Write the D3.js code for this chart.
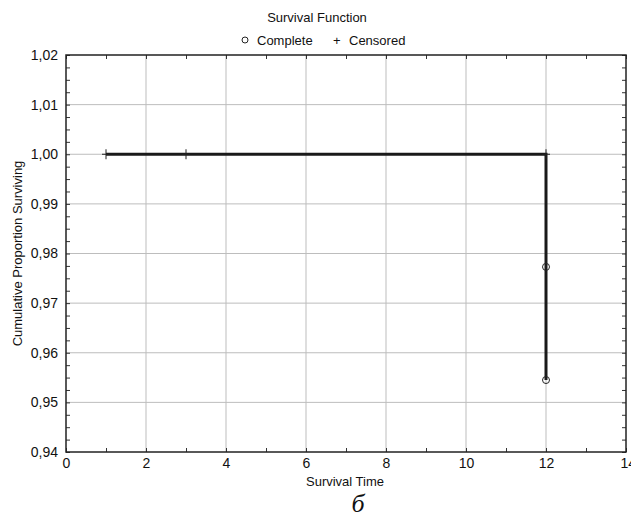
<!DOCTYPE html>
<html>
<head>
<meta charset="utf-8">
<script src="https://cdn.jsdelivr.net/npm/d3@7"></script>
<style>
body { margin: 0; background: #fff; }
text { font-family: "Liberation Sans", Arial, sans-serif; fill: #111; }
</style>
</head>
<body>
<div id="chart"></div>
<script>
var width = 631;
var height = 515;
var margin = {top: 55, right: 5, bottom: 63, left: 66};

// survival step data
var stepTimes = [1, 12, 12, 12];
var stepValues = [1.00, 1.00, 0.9773, 0.9545];
var completeTimes = [12, 12];
var completeValues = [0.9773, 0.9545];
var censoredTimes = [1, 3, 12];
var censoredValues = [1.00, 1.00, 1.00];
var xTicks = [0, 2, 4, 6, 8, 10, 12, 14];
var yTicks = [0.94, 0.95, 0.96, 0.97, 0.98, 0.99, 1.00, 1.01, 1.02];

var locale = d3.formatLocale({decimal: ",", thousands: " ", grouping: [3], currency: ["", ""]});
var fmt = locale.format(".2f");

var svg = d3.select("#chart")
	.append("svg")
		.attr("width", width)
		.attr("height", height);

var x = d3.scaleLinear().domain([0, 14]).range([margin.left, width - margin.right]);
var y = d3.scaleLinear().domain([0.94, 1.02]).range([height - margin.bottom, margin.top]);

// grid
svg.append("g").selectAll("line")
	.data(xTicks.slice(1, -1))
	.enter().append("line")
		.attr("x1", function (d) { return x(d); })
		.attr("x2", function (d) { return x(d); })
		.attr("y1", y(0.94))
		.attr("y2", y(1.02))
		.attr("stroke", "#bdbdbd")
		.attr("stroke-width", 1);

svg.append("g").selectAll("line")
	.data(yTicks.slice(1, -1))
	.enter().append("line")
		.attr("y1", function (d) { return y(d); })
		.attr("y2", function (d) { return y(d); })
		.attr("x1", x(0))
		.attr("x2", x(14))
		.attr("stroke", "#bdbdbd")
		.attr("stroke-width", 1);

// axes with inward ticks
var xMinor = d3.range(0, 14.01, 1);
var yMinor = d3.range(0.94, 1.0201, 0.0025);

svg.append("g")
	.attr("transform", "translate(0," + y(0.94) + ")")
	.call(d3.axisTop(x).tickValues(xMinor).tickSize(4).tickFormat(""))
	.call(function (g) { g.select(".domain").remove(); });
svg.append("g")
	.attr("transform", "translate(0," + y(1.02) + ")")
	.call(d3.axisBottom(x).tickValues(xMinor).tickSize(4).tickFormat(""))
	.call(function (g) { g.select(".domain").remove(); });
svg.append("g")
	.attr("transform", "translate(" + x(0) + ",0)")
	.call(d3.axisRight(y).tickValues(yMinor).tickSize(4).tickFormat(""))
	.call(function (g) { g.select(".domain").remove(); });
svg.append("g")
	.attr("transform", "translate(" + x(14) + ",0)")
	.call(d3.axisLeft(y).tickValues(yMinor).tickSize(4).tickFormat(""))
	.call(function (g) { g.select(".domain").remove(); });

svg.selectAll(".tick line").attr("stroke", "#333");

// tick labels
var xAxis = svg.append("g")
	.attr("transform", "translate(0," + y(0.94) + ")")
	.call(d3.axisBottom(x).tickValues(xTicks).tickSize(0).tickPadding(6).tickFormat(d3.format("d")));
xAxis.select(".domain").remove();
xAxis.selectAll("text").attr("font-size", 14).attr("fill", "#111").style("font-family", "Liberation Sans, Arial, sans-serif");
// the last label is clipped by the page edge, as in the original
xAxis.selectAll(".tick").filter(function (d) { return d === 14; }).select("text").attr("text-anchor", "start").attr("dx", -6);

var yAxis = svg.append("g")
	.attr("transform", "translate(" + x(0) + ",0)")
	.call(d3.axisLeft(y).tickValues(yTicks).tickSize(0).tickPadding(8).tickFormat(fmt));
yAxis.select(".domain").remove();
yAxis.selectAll("text").attr("font-size", 14).attr("fill", "#111").style("font-family", "Liberation Sans, Arial, sans-serif");

// frame
svg.append("rect")
	.attr("x", x(0))
	.attr("y", y(1.02))
	.attr("width", x(14) - x(0))
	.attr("height", y(0.94) - y(1.02))
	.attr("fill", "none")
	.attr("stroke", "#222")
	.attr("stroke-width", 1.5);

// step line
var line = d3.line()
	.x(function (d) { return x(d[0]); })
	.y(function (d) { return y(d[1]); });

svg.append("path")
	.datum(d3.zip(stepTimes, stepValues))
	.attr("d", line)
	.attr("fill", "none")
	.attr("stroke", "#1a1a1a")
	.attr("stroke-width", 3);

// complete (circles)
svg.selectAll("circle.complete")
	.data(d3.zip(completeTimes, completeValues))
	.enter().append("circle")
		.attr("class", "complete")
		.attr("cx", function (d) { return x(d[0]); })
		.attr("cy", function (d) { return y(d[1]); })
		.attr("r", 3.5)
		.attr("fill", "none")
		.attr("stroke", "#222")
		.attr("stroke-width", 1);

// censored (+)
var cens = svg.selectAll("g.cens")
	.data(d3.zip(censoredTimes, censoredValues))
	.enter().append("g")
		.attr("class", "cens")
		.attr("transform", function (d) { return "translate(" + x(d[0]) + "," + y(d[1]) + ")"; });
cens.append("line").attr("x1", -4).attr("x2", 4).attr("stroke", "#222");
cens.append("line").attr("y1", -5).attr("y2", 5).attr("stroke", "#222");

// titles
svg.append("text")
	.attr("x", 317)
	.attr("y", 22)
	.attr("text-anchor", "middle")
	.attr("font-size", 13)
	.text("Survival Function");

svg.append("circle").attr("cx", 245).attr("cy", 40).attr("r", 3).attr("fill", "none").attr("stroke", "#222");
svg.append("text").attr("x", 257).attr("y", 45).attr("font-size", 13).text("Complete");
svg.append("text").attr("x", 333).attr("y", 45).attr("font-size", 13).text("+");
svg.append("text").attr("x", 349).attr("y", 45).attr("font-size", 13).text("Censored");

svg.append("text")
	.attr("x", 345)
	.attr("y", 486)
	.attr("text-anchor", "middle")
	.attr("font-size", 13)
	.text("Survival Time");

svg.append("text")
	.attr("transform", "translate(22," + ((y(0.94) + y(1.02)) / 2) + ") rotate(-90)")
	.attr("text-anchor", "middle")
	.attr("font-size", 13)
	.text("Cumulative Proportion Surviving");

svg.append("text")
	.attr("x", 358)
	.attr("y", 512)
	.attr("text-anchor", "middle")
	.attr("font-size", 26)
	.attr("font-style", "italic")
	.style("font-family", "Liberation Serif, Times New Roman, serif")
	.text("б");
</script>
</body>
</html>
